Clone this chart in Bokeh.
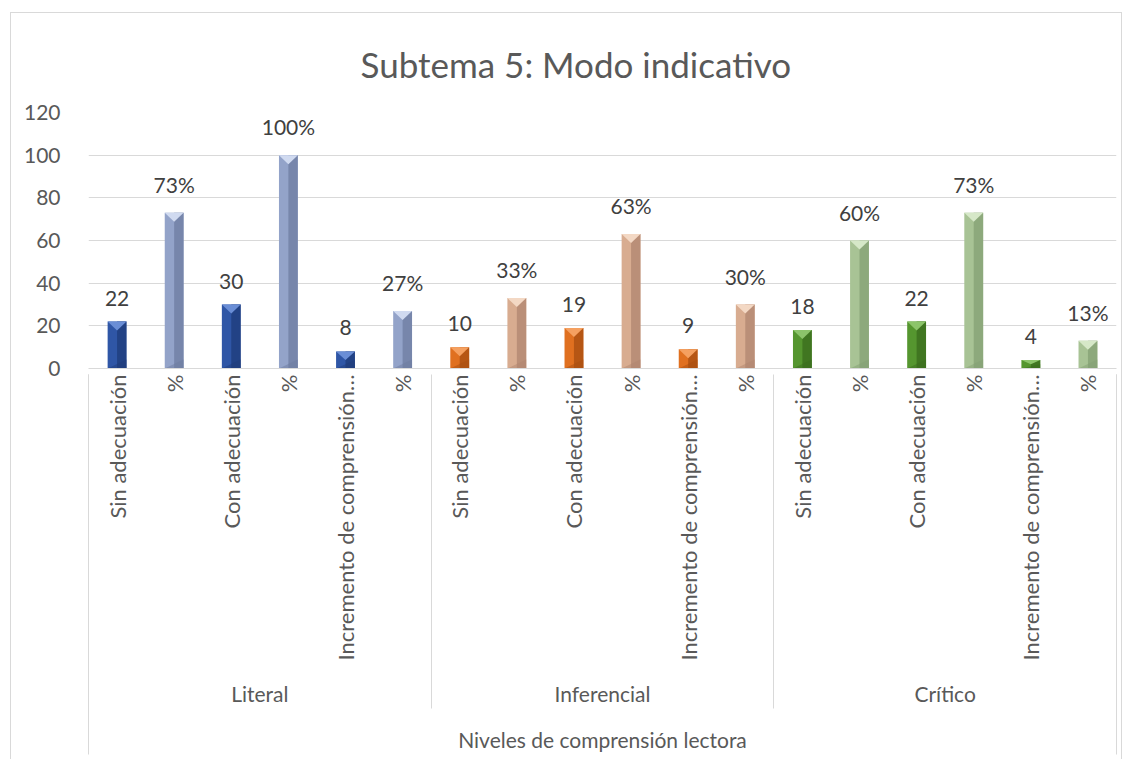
import math
from bokeh.plotting import figure
from bokeh.models import FixedTicker, LinearAxis, Range1d
from bokeh.embed import file_html
from bokeh.resources import INLINE
from bokeh.core.properties import value

# ---------------- data ----------------
groups = ["Literal", "Inferencial", "Crítico"]
subcats = ["Sin adecuación", "%", "Con adecuación", "%", "Incremento de comprensión…", "%"]
literal = [22, 73, 30, 100, 8, 27]
inferencial = [10, 33, 19, 63, 9, 30]
critico = [18, 60, 22, 73, 4, 13]
is_pct = [False, True, False, True, False, True]
y_ticks = [0, 20, 40, 60, 80, 100, 120]

chart_title = "Subtema 5:  Modo indicativo"
x_title = "Niveles de comprensión lectora"

# (face, side, top) colours for count bars and percentage bars per group
colors = {
    "Literal": {"count": ("#2F56A6", "#1F3C7A", "#6A8ED6"),
                "pct": ("#93A3C9", "#6E7CA0", "#D0DAF0")},
    "Inferencial": {"count": ("#E07020", "#A84E10", "#F5A060"),
                    "pct": ("#D8AC90", "#B08670", "#F3D8C4")},
    "Crítico": {"count": ("#55962F", "#3A6B1E", "#8CC46A"),
                "pct": ("#A8C395", "#84A074", "#D6E8C8")},
}

FONT = "Lato"
TXT = "#595959"
GRID = "#D9D9D9"
FS = "21px"

series = [literal, inferencial, critico]
nslots = len(subcats)
ntotal = nslots * len(groups)

W, H = 1112, 747
p = figure(width=W, height=H, x_range=Range1d(-0.5, ntotal - 0.5),
           y_range=Range1d(y_ticks[0], y_ticks[-1]),
           output_backend="svg", toolbar_location=None,
           x_axis_location=None, y_axis_location="left",
           min_border_left=77, min_border_right=7, min_border_top=99,
           min_border_bottom=392)
p.styles = {"margin-left": "10px", "margin-top": "12px",
            "border-left": "1px solid #D9D9D9", "border-top": "1px solid #D9D9D9",
            "border-right": "1px solid #D9D9D9"}

p.title.text = chart_title
p.title.text_font = FONT
p.title.text_font_size = "35px"
p.title.text_font_style = "normal"
p.title.text_color = TXT
p.title.align = "left"
p.title.offset = 272
p.title.vertical_align = "middle"
p.title.text_line_height = 1.0
p.title.standoff = 54

p.outline_line_color = None
p.xgrid.visible = False
p.ygrid.ticker = FixedTicker(ticks=y_ticks)
p.ygrid.grid_line_color = GRID

ya = p.yaxis[0]
ya.ticker = FixedTicker(ticks=y_ticks)
ya.axis_line_color = None
ya.major_tick_line_color = None
ya.minor_tick_line_color = None
ya.major_label_standoff = 22
ya.major_label_text_font = FONT
ya.major_label_text_font_size = FS
ya.major_label_text_color = TXT

# ---------------- bars ----------------
w = 0.33
px_per_unit = 256.0 / (y_ticks[-1] - y_ticks[0])
for gi, (g, vals) in enumerate(zip(groups, series)):
    for kind in ("count", "pct"):
        idx = [j for j in range(nslots) if is_pct[j] == (kind == "pct")]
        xs = [gi * nslots + j for j in idx]
        vs = [vals[j] for j in idx]
        face, side, top = colors[g][kind]
        p.vbar(x=xs, top=vs, bottom=0, width=w, fill_color=face, line_color=None)
        p.vbar(x=[x + w / 4 for x in xs], top=vs, bottom=0, width=w / 2,
               fill_color=side, line_color=None, fill_alpha=0.75)
        d = [min(9.0 / px_per_unit, v * 0.5) for v in vs]
        p.patches(xs=[[x - w / 2, x + w / 2, x] for x in xs],
                  ys=[[v, v, v - dd] for v, dd in zip(vs, d)],
                  fill_color=top, line_color=None)
        p.patches(xs=[[x - w / 2, x + w / 2, x + w / 2] for x in xs],
                  ys=[[0, 0, dd] for dd in d],
                  fill_color=side, line_color=None, fill_alpha=0.5)

# data labels
lx, ly, lt = [], [], []
for gi, vals in enumerate(series):
    for j, v in enumerate(vals):
        lx.append(gi * nslots + j)
        ly.append(v)
        lt.append(f"{v}%" if is_pct[j] else f"{v}")
p.text(x=lx, y=ly, text=lt, text_align="center", text_baseline="bottom",
       y_offset=-16, text_font=value(FONT), text_font_size=FS,
       text_color="#404040")

# ---------------- category axes ----------------
slot_ticks = list(range(ntotal))
bounds = [gi * nslots - 0.5 for gi in range(len(groups) + 1)]

# A: sub-category labels (rotated)
axA = LinearAxis(
    ticker=FixedTicker(ticks=slot_ticks),
    major_label_overrides={i: subcats[i % nslots] for i in slot_ticks},
    major_label_orientation=math.pi / 2,
    major_tick_out=0, major_tick_in=0, major_tick_line_color=None,
    minor_tick_line_color=None,
    axis_line_color=GRID, major_label_standoff=6,
    major_label_text_font=FONT, major_label_text_font_size="22px",
    major_label_text_color=TXT)
p.add_layout(axA, "below")

# B: group labels
group_ticks = [gi * nslots + (nslots - 1) / 2 for gi in range(len(groups))]
axB = LinearAxis(
    ticker=FixedTicker(ticks=group_ticks),
    major_label_overrides={t: g for t, g in zip(group_ticks, groups)},
    major_tick_out=0, major_tick_in=0, major_tick_line_color=None,
    minor_tick_line_color=None, axis_line_color=None,
    major_label_standoff=17,
    major_label_text_font=FONT, major_label_text_font_size=FS,
    major_label_text_color=TXT)
p.add_layout(axB, "below")

# C: separators between groups (ticks pointing up) + axis title
axC = LinearAxis(
    ticker=FixedTicker(ticks=bounds, minor_ticks=[]),
    major_label_overrides={b: "" for b in bounds},
    major_tick_out=0, major_tick_in=334, major_tick_line_color=GRID,
    minor_tick_line_color=None, axis_line_color=None,
    major_label_standoff=0, major_label_text_font_size="0px",
    axis_label=x_title, axis_label_standoff=18,
    axis_label_text_font=FONT, axis_label_text_font_size=FS,
    axis_label_text_font_style="normal", axis_label_text_color=TXT)
p.add_layout(axC, "below")

# D: outer borders of the category axis (ticks pointing up)
axD = LinearAxis(
    ticker=FixedTicker(ticks=[bounds[0], bounds[-1]], minor_ticks=[]),
    major_label_overrides={bounds[0]: "", bounds[-1]: ""},
    major_tick_out=0, major_tick_in=380, major_tick_line_color=GRID,
    minor_tick_line_color=None, axis_line_color=None,
    major_label_standoff=0, major_label_text_font_size="0px")
p.add_layout(axD, "below")

open("out.html", "w").write(file_html(p, INLINE))
